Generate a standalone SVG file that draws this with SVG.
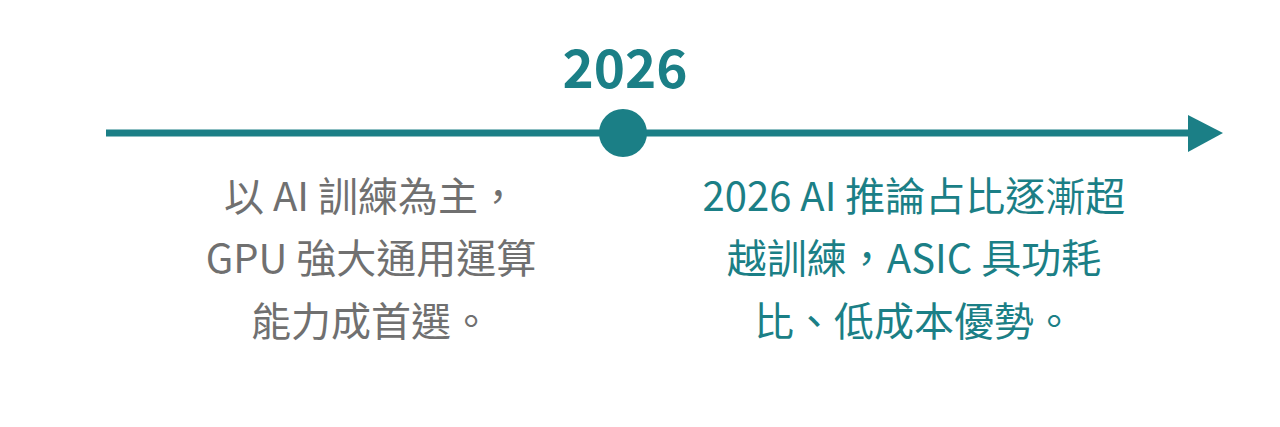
<svg xmlns="http://www.w3.org/2000/svg" width="1280" height="427" viewBox="0 0 1280 427">
<style>
.t{font-family:"Noto Sans CJK TC","Noto Sans",sans-serif;font-size:40px;text-anchor:middle}
.g{fill:#707070}
.c{fill:#1b7f86}
</style>
<rect width="1280" height="427" fill="#ffffff"/>
<g id="connectors">
<line x1="106" y1="133" x2="1192" y2="133" stroke="#1b7f86" stroke-width="7"/>
<polygon points="1188,115 1223,133 1188,152" fill="#1b7f86"/>
</g>
<g id="year">
<circle cx="623" cy="133" r="24" fill="#1b7f86"/>
<text x="625" y="88" class="c" style="font-family:'Noto Sans CJK TC','Noto Sans',sans-serif;font-size:53px;font-weight:bold;text-anchor:middle">2026</text>
</g>
<g id="left">
<text class="t g" x="371" y="211">以 AI 訓練為主，</text>
<text class="t g" x="371" y="273">GPU 強大通用運算</text>
<text class="t g" x="371" y="336">能力成首選。</text>
</g>
<g id="right">
<text class="t c" x="914" y="211">2026 AI 推論占比逐漸超</text>
<text class="t c" x="914" y="273">越訓練，ASIC 具功耗</text>
<text class="t c" x="914" y="336">比、低成本優勢。</text>
</g>
</svg>
